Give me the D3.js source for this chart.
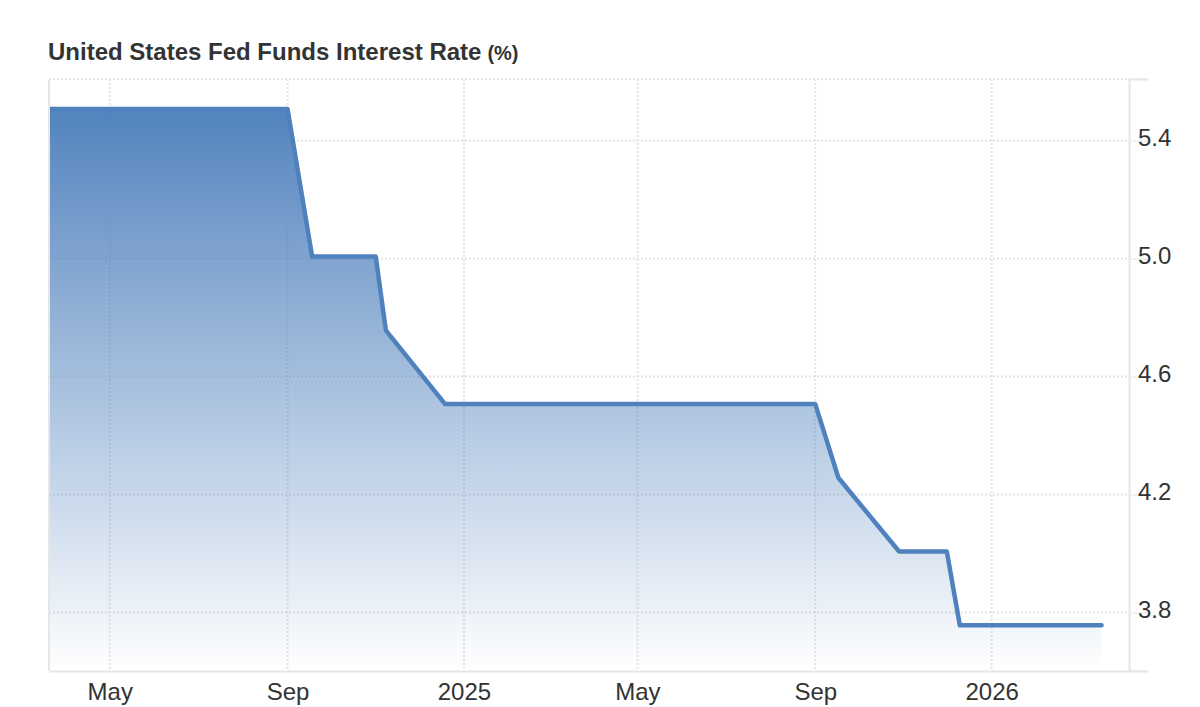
<!DOCTYPE html>
<html>
<head>
<meta charset="utf-8">
<script src="https://cdn.jsdelivr.net/npm/d3@7"></script>
<style>
  html, body { margin: 0; padding: 0; background: #fff; }
  text { font-family: "Liberation Sans", Arial, sans-serif; fill: #333; }
  .grid line { stroke: #e4e4e4; stroke-width: 2; stroke-dasharray: 2 2; }
</style>
</head>
<body>
<div id="chart"></div>
<script>
var dates = ['2024-03-20', '2024-09-01', '2024-09-18', '2024-11-01', '2024-11-08', '2024-12-19',
             '2025-09-01', '2025-09-17', '2025-10-29', '2025-12-01', '2025-12-10', '2026-03-18'];
var rates = [5.507, 5.507, 5.007, 5.007, 4.757, 4.507, 4.507, 4.257, 4.007, 4.007, 3.757, 3.757];
var xTickDates = ['2024-05-01', '2024-09-01', '2025-01-01', '2025-05-01', '2025-09-01', '2026-01-01'];
var xTickLabels = ['May', 'Sep', '2025', 'May', 'Sep', '2026'];
var yTicks = [3.8, 4.2, 4.6, 5.0, 5.4];

var width = 1200,
  height = 707,
  margin = {top: 79, right: 71, bottom: 36, left: 49},
  innerWidth = width - margin.left - margin.right,
  innerHeight = height - margin.top - margin.bottom,
  parseDate = d3.utcParse('%Y-%m-%d');

var data = dates.map((d, i) => ({date: parseDate(d), value: rates[i]}));

var xScale = d3.scaleUtc()
  .domain([parseDate('2024-03-20'), parseDate('2026-04-06')])
  .range([0, innerWidth]);

var yScale = d3.scaleLinear()
  .domain([3.602, 5.609])
  .range([innerHeight, 0]);

var svg = d3.select('#chart')
  .append('svg')
  .attr('width', width)
  .attr('height', height)
  .style('display', 'block');

var defs = svg.append('defs');

var gradient = defs.append('linearGradient')
  .attr('id', 'areaFill')
  .attr('x1', 0).attr('y1', 0).attr('x2', 0).attr('y2', 1);
gradient.append('stop').attr('offset', '0%').attr('stop-color', '#4f81bd').attr('stop-opacity', 0.98);
gradient.append('stop').attr('offset', '100%').attr('stop-color', '#4f81bd').attr('stop-opacity', 0);

// stops the line's round cap poking out past the left axis
defs.append('clipPath')
  .attr('id', 'plotClip')
  .append('rect')
  .attr('x', 0)
  .attr('y', 0)
  .attr('width', innerWidth)
  .attr('height', innerHeight);

svg.append('text')
  .attr('x', 48)
  .attr('y', 60)
  .style('font-size', '24px')
  .style('font-weight', 'bold')
  .text('United States Fed Funds Interest Rate')
  .append('tspan')
  .attr('dx', 6)
  .style('font-size', '20px')
  .text('(%)');

var g = svg.append('g')
  .attr('transform', 'translate(' + margin.left + ',' + margin.top + ')');

// dotted grid, sits under the area
g.append('g')
  .attr('class', 'grid')
  .selectAll('line')
  .data(xTickDates)
  .enter()
  .append('line')
  .attr('x1', (d) => xScale(parseDate(d)))
  .attr('x2', (d) => xScale(parseDate(d)))
  .attr('y1', 0)
  .attr('y2', innerHeight);

g.append('g')
  .attr('class', 'grid')
  .selectAll('line')
  .data(yTicks.concat(yScale.domain()[1]))
  .enter()
  .append('line')
  .attr('x1', 0)
  .attr('x2', innerWidth)
  .attr('y1', (d) => yScale(d))
  .attr('y2', (d) => yScale(d));

var area = d3.area()
  .x((d) => xScale(d.date))
  .y0(innerHeight)
  .y1((d) => yScale(d.value));

var line = d3.line()
  .x((d) => xScale(d.date))
  .y((d) => yScale(d.value));

g.append('path')
  .datum(data)
  .attr('d', area)
  .attr('fill', 'url(#areaFill)');

g.append('path')
  .datum(data)
  .attr('d', line)
  .attr('clip-path', 'url(#plotClip)')
  .attr('fill', 'none')
  .attr('stroke', '#4f81bd')
  .attr('stroke-width', 4.5)
  .attr('stroke-linejoin', 'round')
  .attr('stroke-linecap', 'round');

var xAxis = d3.axisBottom(xScale)
  .tickValues(xTickDates.map(parseDate))
  .tickFormat((d, i) => xTickLabels[i])
  .tickSize(0)
  .tickPadding(12);

var xAxisG = g.append('g')
  .attr('transform', 'translate(0,' + innerHeight + ')')
  .call(xAxis);
xAxisG.select('.domain').attr('stroke', '#e6e6e6').attr('stroke-width', 2);
xAxisG.selectAll('text').style('font-size', '24px').attr('fill', '#333');

var yAxis = d3.axisRight(yScale)
  .tickValues(yTicks)
  .tickFormat(d3.format('.1f'))
  .tickSize(19)
  .tickPadding(-10);

var yAxisG = g.append('g')
  .attr('transform', 'translate(' + innerWidth + ',0)')
  .call(yAxis);
yAxisG.select('.domain').attr('stroke', '#e6e6e6').attr('stroke-width', 2);
yAxisG.selectAll('.tick line').attr('stroke', '#e6e6e6');
yAxisG.selectAll('text').style('font-size', '24px').attr('fill', '#333').attr('dy', '0.2em');

// top and bottom end ticks of the right axis, and the left edge
yAxisG.selectAll('.end')
  .data(yScale.domain())
  .enter()
  .append('line')
  .attr('class', 'end')
  .attr('x2', 19)
  .attr('y1', (d) => yScale(d))
  .attr('y2', (d) => yScale(d))
  .attr('stroke', '#e6e6e6');

g.append('line')
  .attr('x1', 0)
  .attr('x2', 0)
  .attr('y1', 0)
  .attr('y2', innerHeight)
  .attr('stroke', '#e6e6e6')
  .attr('stroke-width', 2);
</script>
</body>
</html>
